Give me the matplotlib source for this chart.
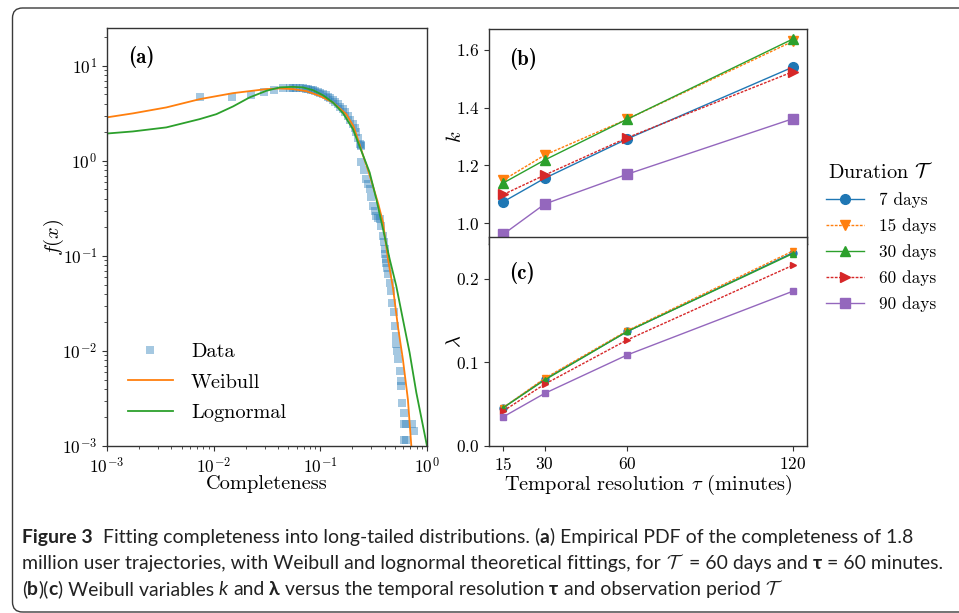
import numpy as np
import matplotlib
matplotlib.use("Agg")
import matplotlib.pyplot as plt
from matplotlib import font_manager as fm
from matplotlib.patches import FancyBboxPatch
from matplotlib.transforms import IdentityTransform

# ---------------- data ----------------
# panel (a): empirical PDF (Data) and fitted curves
data_x = [0.0074, 0.0150, 0.0222, 0.0296, 0.0367, 0.0447, 0.0515, 0.0555, 0.0596, 0.064,
          0.0688, 0.073, 0.0766, 0.081, 0.0853, 0.090, 0.0951, 0.100, 0.1057, 0.112,
          0.1178, 0.124, 0.1312, 0.138, 0.1462, 0.154, 0.163, 0.172, 0.1815, 0.190,
          0.2022, 0.210, 0.2175, 0.225, 0.2334, 0.238, 0.242,
          0.242, 0.255, 0.27, 0.28, 0.29, 0.30, 0.311, 0.322, 0.335, 0.348, 0.36,
          0.373, 0.387, 0.395, 0.401, 0.408, 0.416, 0.421, 0.416, 0.431, 0.447, 0.463, 0.473,
          0.487, 0.497, 0.508, 0.515, 0.527, 0.538, 0.553, 0.566, 0.574, 0.586,
          0.604, 0.604, 0.631, 0.728, 0.754, 0.604, 0.631]
data_y = [4.65, 4.65, 4.91, 5.25, 5.59, 5.78, 5.82, 5.82, 5.82, 5.80,
          5.78, 5.73, 5.69, 5.62, 5.55, 5.45, 5.32, 5.18, 5.03, 4.88,
          4.72, 4.55, 4.36, 4.16, 3.95, 3.73, 3.50, 3.25, 2.98, 2.72,
          2.43, 2.20, 1.99, 1.75, 1.50, 1.47, 1.44,
          0.962, 0.80, 0.641, 0.57, 0.504, 0.42, 0.336, 0.30, 0.264, 0.25, 0.243,
          0.207, 0.162, 0.14, 0.117, 0.105, 0.0923, 0.0755, 0.085, 0.0641, 0.0525, 0.0428, 0.0323,
          0.0254, 0.0183, 0.0144, 0.0117, 0.0100, 0.0082, 0.0062, 0.0048, 0.0043, 0.00286,
          0.00224, 0.00169, 0.00169, 0.00169, 0.00144, 0.00117, 0.00117]

weibull_x = [0.001, 0.00175, 0.0036, 0.0074, 0.0152, 0.0312, 0.0416, 0.0553, 0.074,
             0.0984, 0.131, 0.175, 0.205, 0.233, 0.251, 0.28, 0.311, 0.35, 0.387, 0.431,
             0.48, 0.533, 0.594, 0.662, 0.713]
weibull_y = [2.87, 3.16, 3.65, 4.46, 5.16, 5.69, 5.78, 5.69, 5.42,
             4.83, 4.12, 3.10, 2.30, 1.50, 1.15, 0.80, 0.546, 0.35, 0.225, 0.0923,
             0.046, 0.0183, 0.0082, 0.0031, 0.001]

lognorm_x = [0.001, 0.00175, 0.0036, 0.0074, 0.0106, 0.0152, 0.0217, 0.0312, 0.0416,
             0.0553, 0.0687, 0.0853, 0.1057, 0.131, 0.163, 0.202, 0.251, 0.29, 0.335,
             0.387, 0.447, 0.515, 0.594, 0.687, 0.794, 1.0]
lognorm_y = [1.94, 2.04, 2.25, 2.75, 3.10, 3.74, 4.65, 5.46, 5.93,
             6.01, 5.93, 5.55, 4.91, 4.12, 3.18, 2.16, 1.15, 0.755, 0.395,
             0.191, 0.0923, 0.0483, 0.0216, 0.0096, 0.00365, 0.001]

# panels (b) and (c): Weibull parameters vs temporal resolution
tau = [15, 30, 60, 120]
durations = ["7 days", "15 days", "30 days", "60 days", "90 days"]
k_vals = {
    "7 days":  [1.075, 1.156, 1.292, 1.539],
    "15 days": [1.150, 1.236, 1.360, 1.628],
    "30 days": [1.140, 1.219, 1.360, 1.636],
    "60 days": [1.100, 1.167, 1.296, 1.523],
    "90 days": [0.963, 1.067, 1.170, 1.361],
}
lam_vals = {
    "7 days":  [0.046, 0.080, 0.137, 0.231],
    "15 days": [0.046, 0.081, 0.138, 0.233],
    "30 days": [0.046, 0.079, 0.137, 0.230],
    "60 days": [0.042, 0.074, 0.127, 0.216],
    "90 days": [0.035, 0.063, 0.109, 0.185],
}

# ---------------- style ----------------
plt.rcParams.update({
    "font.family": "serif",
    "font.serif": ["cmr10"],
    "mathtext.fontset": "cm",
    "axes.formatter.use_mathtext": True,
    "axes.edgecolor": "#333333",
    "axes.linewidth": 1.0,
    "xtick.color": "#333333",
    "ytick.color": "#333333",
    "xtick.labelcolor": "black",
    "ytick.labelcolor": "black",
})

W, H = 959, 613
fig = plt.figure(figsize=(W / 100, H / 100), dpi=100)


def rect(l, t, r, b):
    return [l / W, 1 - b / H, (r - l) / W, (b - t) / H]


TICK_FS = 12.5
LABEL_FS = 14.7
BOLD_FAMILY = "cmb10"

# ---------------- panel (a) ----------------
axA = fig.add_axes(rect(107, 28, 427, 446))
axA.plot(data_x, data_y, "s", color="C0", alpha=0.4, markersize=6, markeredgewidth=0,
         label="Data")
axA.plot(weibull_x, weibull_y, color="C1", lw=1.3, label="Weibull")
axA.plot(lognorm_x, lognorm_y, color="C2", lw=1.3, label="Lognormal")
axA.set_xscale("log")
axA.set_yscale("log")
axA.set_xlim(1e-3, 1)
axA.set_ylim(1e-3, 25)
axA.set_xlabel("Completeness", fontsize=LABEL_FS)
axA.set_ylabel("$f(x)$", fontsize=LABEL_FS)
axA.xaxis.set_label_coords(0.5, -(484 - 446) / 418, transform=axA.transAxes)
axA.yaxis.set_label_coords((54 - 107) / 320, 0.5, transform=axA.transAxes)
axA.xaxis.label.set_va("center")
axA.yaxis.label.set_va("center")
axA.tick_params(labelsize=TICK_FS)
axA.text(0.066, 0.93, "(a)", transform=axA.transAxes, fontsize=15,
         family=BOLD_FAMILY, va="center", ha="left")
axA.legend(loc="center left", bbox_to_anchor=(0.066, 0.152), frameon=False,
           fontsize=14.6, handlelength=2.2, handletextpad=0.9, labelspacing=0.6,
           borderpad=0, borderaxespad=0, numpoints=1)

# ---------------- panels (b) and (c) ----------------
styles = {
    "7 days":  dict(color="C0", marker="o", ls="-"),
    "15 days": dict(color="C1", marker="v", ls=(0, (2, 1))),
    "30 days": dict(color="C2", marker="^", ls="-"),
    "60 days": dict(color="C3", marker=">", ls=(0, (2, 1))),
    "90 days": dict(color="C4", marker="s", ls="-"),
}

axB = fig.add_axes(rect(489, 29, 807, 244))
axC = fig.add_axes(rect(489, 237, 807, 446))

for d in durations:
    st = styles[d]
    axB.plot(tau, k_vals[d], color=st["color"], marker=st["marker"], ls=st["ls"],
             lw=1.0, markersize=7, label=d)
    axC.plot(tau, lam_vals[d], color=st["color"], marker=st["marker"], ls=st["ls"],
             lw=1.0, markersize=5)

for ax in (axB, axC):
    ax.set_xlim(9.75, 125.25)
    ax.set_xticks(tau)
    ax.tick_params(labelsize=TICK_FS)

axB.set_ylim(0.929, 1.671)
axB.set_yticks([1.0, 1.2, 1.4, 1.6])
axB.tick_params(labelbottom=False)
axB.set_ylabel("$k$", fontsize=LABEL_FS)
axB.yaxis.set_label_coords((455 - 489) / 318, 0.5, transform=axB.transAxes)
axB.yaxis.label.set_va("center")
axB.text(0.063, 0.86, "(b)", transform=axB.transAxes, fontsize=15,
         family=BOLD_FAMILY, va="center", ha="left")

axC.set_ylim(0, 0.25)
axC.set_yticks([0.0, 0.1, 0.2])
axC.set_ylabel(r"$\lambda$", fontsize=LABEL_FS)
axC.yaxis.set_label_coords((455 - 489) / 318, 0.5, transform=axC.transAxes)
axC.yaxis.label.set_va("center")
axC.set_xlabel(r"Temporal resolution $\tau$ (minutes)", fontsize=LABEL_FS)
axC.xaxis.set_label_coords(0.5, -(485 - 446) / 209, transform=axC.transAxes)
axC.xaxis.label.set_va("center")
axC.text(0.063, 0.83, "(c)", transform=axC.transAxes, fontsize=15,
         family=BOLD_FAMILY, va="center", ha="left")

handles, labels = axB.get_legend_handles_labels()
leg = fig.legend(handles, labels, loc="center", bbox_to_anchor=(881 / W, 1 - 237 / H),
                 frameon=False, fontsize=12.4, title=r"Duration $\mathcal{T}$",
                 title_fontsize=14.6, handlelength=2.2, handletextpad=0.85,
                 labelspacing=0.6, borderpad=0)

# ---------------- frame ----------------
frame = FancyBboxPatch((12.5, 1.0), 1000, 604.0, boxstyle="round,pad=0,rounding_size=10",
                       transform=IdentityTransform(), fill=False, edgecolor="#3a3a3a",
                       lw=1.0, clip_on=False)
fig.add_artist(frame)

# ---------------- caption ----------------
def has_font(name):
    try:
        fm.findfont(fm.FontProperties(family=name), fallback_to_default=False)
        return True
    except Exception:
        return False

cap_family = "Liberation Sans Narrow" if has_font("Liberation Sans Narrow") else "Lato"
cap_fams = [cap_family, "DejaVu Sans"]

line1 = [("Figure 3", "b"), ("  Fitting completeness into long-tailed distributions. (", "n"),
         ("a", "b"), (") Empirical PDF of the completeness of 1.8", "n")]
line2 = [("million user trajectories, with Weibull and lognormal theoretical fittings, for ", "n"),
         (r"$\mathcal{T}$", "n"), (" = 60 days and ", "n"), ("τ", "b"), (" = 60 minutes.", "n")]
line3 = [("(", "n"), ("b", "b"), (")(", "n"), ("c", "b"), (") Weibull variables ", "n"),
         ("k", "i"), (" and ", "n"), ("λ", "b"), (" versus the temporal resolution ", "n"),
         ("τ", "b"), (" and observation period ", "n"), (r"$\mathcal{T}$", "n")]

renderer = fig.canvas.get_renderer()


def text_width(s, size, **kw):
    t = fig.text(0, 0, s, fontsize=size, family=cap_fams, **kw)
    w = t.get_window_extent(renderer=renderer).width
    t.remove()
    return w


def piece_kw(st):
    kw = {}
    if st == "b":
        kw["weight"] = "bold"
    if st == "i":
        kw["style"] = "italic"
    return kw


def line_width(pieces, size):
    sp = text_width("n n", size) - text_width("nn", size)
    total = 0
    for s, st in pieces:
        lead = len(s) - len(s.lstrip(" "))
        trail = len(s) - len(s.rstrip(" "))
        core = s.strip(" ")
        total += (lead + trail) * sp + (text_width(core, size, **piece_kw(st)) if core else 0)
    return total


# choose caption size so that line 2 spans the same width as in the reference
base = 12.0
cap_size = base * 920.0 / line_width(line2, base)


def draw_line(pieces, x0, baseline, size):
    sp = text_width("n n", size) - text_width("nn", size)
    x = x0
    for s, st in pieces:
        lead = len(s) - len(s.lstrip(" "))
        trail = len(s) - len(s.rstrip(" "))
        core = s.strip(" ")
        x += lead * sp
        if core:
            t = fig.text(x / W, 1 - baseline / H, core, fontsize=size, family=cap_fams,
                         ha="left", va="baseline", color="#222222", **piece_kw(st))
            x += t.get_window_extent(renderer=renderer).width
        x += trail * sp


draw_line(line1, 22, 543, cap_size)
draw_line(line2, 22, 569, cap_size)
draw_line(line3, 22, 595, cap_size)

fig.savefig("out.png", dpi=100)
